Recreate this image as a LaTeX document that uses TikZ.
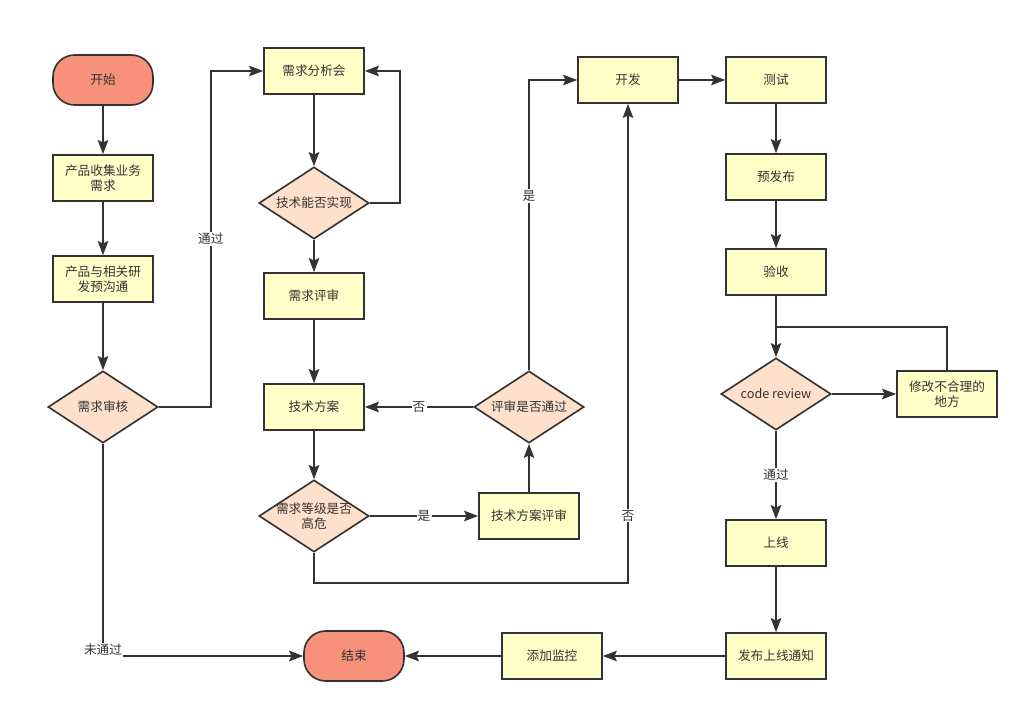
\documentclass[tikz,border=0pt]{standalone}
\usepackage{fontspec}
\setmainfont{Noto Sans CJK SC}
\usetikzlibrary{shapes.geometric, arrows.meta, positioning, calc}
\definecolor{boxfill}{HTML}{FFFFC8}
\definecolor{decfill}{HTML}{FFE1CB}
\definecolor{termfill}{HTML}{F7917B}
\definecolor{linecol}{HTML}{333333}
\tikzset{
    stepbox/.style={
           rectangle,
           draw=linecol, line width=1.4pt,
           fill=boxfill,
           minimum width=3cm, minimum height=1.38cm,
           inner sep=2pt,
           align=center,
           },
    decision/.style={
           diamond, aspect=1.53,
           draw=linecol, line width=1.4pt,
           fill=decfill,
           minimum width=3.3cm, minimum height=2.16cm,
           inner sep=0pt,
           align=center,
           },
    terminal/.style={
           rectangle,
           rounded corners=0.65cm,
           draw=linecol, line width=1.4pt,
           fill=termfill,
           minimum width=3cm, minimum height=1.5cm,
           },
    lbl/.style={fill=white, inner sep=1pt, text=linecol},
}

\begin{document}
\begin{tikzpicture}[x=0.03cm, y=-0.03cm, ->, >={Stealth[length=12pt,width=9pt,inset=2pt]},
    line width=1.4pt, draw=linecol, text=linecol, font=\fontsize{10.8}{13}\selectfont]
  \useasboundingbox (0,0) rectangle (1028,713);

  % left column
  \node[terminal] (Start)   at (103,80)  {开始};
  \node[stepbox]  (Collect) at (103,178) {产品收集业务\\需求};
  \node[stepbox]  (Talk)    at (103,279) {产品与相关研\\发预沟通};
  \node[decision] (Audit)   at (103,407) {需求审核};

  % second column
  \node[stepbox]  (Meeting) at (314,71)  {需求分析会};
  \node[decision] (Doable)  at (314,203) {技术能否实现};
  \node[stepbox]  (Review)  at (314,296) {需求评审};
  \node[stepbox]  (Plan)    at (314,407) {技术方案};
  \node[decision, inner sep=-3pt] (Risk) at (314,516) {需求等级是否\\高危};
  \node[terminal] (End)     at (354,656) {结束};

  % third column
  \node[stepbox]  (PlanRev) at (529,516) {技术方案评审};
  \node[decision] (Passed)  at (529,407) {评审是否通过};
  \node[stepbox]  (Dev)     at (628,80)  {开发};
  \node[stepbox]  (Monitor) at (552,656) {添加监控};

  % right column
  \node[stepbox]  (Test)    at (776,80)  {测试};
  \node[stepbox]  (Pre)     at (776,177) {预发布};
  \node[stepbox]  (Accept)  at (776,272) {验收};
  \node[decision] (CR)      at (776,394) {code review};
  \node[stepbox]  (Fix)     at (947,394) {修改不合理的\\地方};
  \node[stepbox]  (Online)  at (776,543) {上线};
  \node[stepbox]  (Notify)  at (776,656) {发布上线通知};

  \draw (Start)   -- (Collect);
  \draw (Collect) -- (Talk);
  \draw (Talk)    -- (Audit);
  \draw (Audit.east) -- ++(52,0) |- node[lbl,pos=0.25]{通过} (Meeting.west);
  \draw (Audit.south) |- node[lbl,pos=0.5,yshift=5pt]{未通过} (End.west);

  \draw (Meeting) -- (Doable);
  \draw (Doable.east) -- ++(30,0) |- (Meeting.east);
  \draw (Doable)  -- (Review);
  \draw (Review)  -- (Plan);
  \draw (Plan)    -- (Risk);
  \draw (Risk)    -- node[lbl]{是} (PlanRev);
  \draw (PlanRev) -- (Passed);
  \draw (Passed)  -- node[lbl]{否} (Plan);
  \draw (Passed.north) |- node[lbl,pos=0.3]{是} (Dev.west);
  \draw (Risk.south) -- ++(0,30) -| node[lbl,pos=0.57]{否} (Dev.south);

  \draw (Dev)     -- (Test);
  \draw (Test)    -- (Pre);
  \draw (Pre)     -- (Accept);
  \draw (Accept)  -- (CR);
  \draw (CR)      -- (Fix);
  \draw[-] (Fix.north) |- ($(Accept.south)!0.5!(CR.north)+(0,0.5)$);
  \draw (CR)      -- node[lbl]{通过} (Online);
  \draw (Online)  -- (Notify);
  \draw (Notify)  -- (Monitor);
  \draw (Monitor) -- (End);

\end{tikzpicture}
\end{document}
